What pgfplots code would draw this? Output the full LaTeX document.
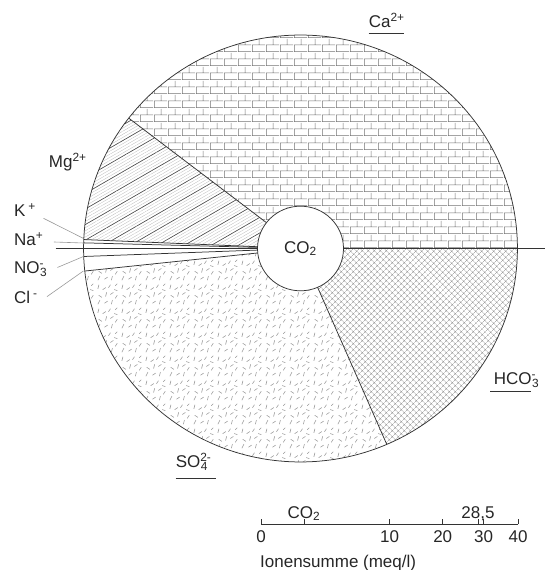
\documentclass[border=0pt]{standalone}
\usepackage{fontspec}
\setmainfont{Liberation Sans}
\usepackage{pgfplots}
\usepackage{pgfplotstable}
\pgfplotsset{compat=1.18}
\usetikzlibrary{patterns,patterns.meta}

\tikzdeclarepattern{
  name=mybricks, type=uncolored,
  bounding box={(0pt,0pt) and (14pt,14pt)},
  tile size={(14pt,14pt)},
  code={
    \draw[line width=0.55pt] (0pt,0.5pt) -- (14pt,0.5pt) (0pt,7.5pt) -- (14pt,7.5pt)
      (0.5pt,0.5pt) -- (0.5pt,7.5pt) (7.5pt,7.5pt) -- (7.5pt,14pt);
  }
}
\tikzdeclarepattern{
  name=mydashes, type=uncolored,
  bounding box={(0pt,0pt) and (24pt,24pt)},
  tile size={(24pt,24pt)},
  code={
    \draw[line width=0.6pt, line cap=round]
      (2pt,2pt)--(4pt,6pt) (9pt,3pt)--(12pt,5pt) (16pt,2pt)--(17pt,6pt)
      (20pt,8pt)--(22pt,11pt) (3pt,11pt)--(6pt,9pt) (10pt,10pt)--(11pt,14pt)
      (15pt,12pt)--(18pt,14pt) (2pt,18pt)--(3pt,22pt) (7pt,17pt)--(10pt,19pt)
      (13pt,19pt)--(15pt,22pt) (19pt,17pt)--(22pt,16pt) (20pt,21pt)--(22pt,23pt);
  }
}

% ---- data (meq/l) ----
\pgfplotstableread{
ion value
Ca 11.27
Mg 2.79
K 0.07
Na 0.12
}\cations
\pgfplotstableread{
ion value
HCO3 5.27
SO4 8.50
Cl 0.31
NO3 0.17
}\anions
\pgfplotstableread{
quantity value
total 28.5
CO2 1.12
}\scalevals

\pgfplotstablegetelem{0}{value}\of\cations\let\vCa\pgfplotsretval
\pgfplotstablegetelem{1}{value}\of\cations\let\vMg\pgfplotsretval
\pgfplotstablegetelem{2}{value}\of\cations\let\vK\pgfplotsretval
\pgfplotstablegetelem{3}{value}\of\cations\let\vNa\pgfplotsretval
\pgfplotstablegetelem{0}{value}\of\anions\let\vHC\pgfplotsretval
\pgfplotstablegetelem{1}{value}\of\anions\let\vSO\pgfplotsretval
\pgfplotstablegetelem{2}{value}\of\anions\let\vCl\pgfplotsretval
\pgfplotstablegetelem{3}{value}\of\anions\let\vNO\pgfplotsretval
\pgfplotstablegetelem{0}{value}\of\scalevals\let\vTot\pgfplotsretval
\pgfplotstablegetelem{1}{value}\of\scalevals\let\vCOz\pgfplotsretval

\pgfmathsetmacro\myKc{180/(\vCa+\vMg+\vK+\vNa)}
\pgfmathsetmacro\myKa{180/(\vHC+\vSO+\vCl+\vNO)}
\pgfmathsetmacro\aCa{\vCa*\myKc}
\pgfmathsetmacro\aMg{(\vCa+\vMg)*\myKc}
\pgfmathsetmacro\aK{(\vCa+\vMg+\vK)*\myKc}
\pgfmathsetmacro\aHC{-\vHC*\myKa}
\pgfmathsetmacro\aSO{-(\vHC+\vSO)*\myKa}
\pgfmathsetmacro\aCl{-(\vHC+\vSO+\vCl)*\myKa}
\def\scaleLen{257}
\pgfmathsetmacro\Rx{\scaleLen*sqrt(\vTot/40)}
\pgfmathsetmacro\Ry{\Rx*0.984}
\pgfmathsetmacro\rx{\scaleLen*sqrt(\vCOz/40)}
\pgfmathsetmacro\ry{\rx*0.984}
\def\cx{300.5}
\def\cy{321.5}

\newcommand\pieslice[2]{(axis cs:\cx,\cy) -- ++(#1:\Rx pt and \Ry pt) arc[start angle=#1, end angle=#2, x radius=\Rx pt, y radius=\Ry pt] -- cycle}
\newcommand\subsup[2]{\textsuperscript{\rlap{#2}}\textsubscript{#1}}

\tikzset{lab/.style={font=\fontsize{17}{20}\selectfont, inner sep=0pt, text=black!85},
  edge/.style={line width=0.75pt, draw=black!80},
  lead/.style={line width=0.6pt, draw=black!40}}

\begin{document}
\begin{tikzpicture}
\begin{axis}[at={(0pt,0pt)}, anchor=south west, x=1pt, y=1pt,
  xmin=0, xmax=547, ymin=0, ymax=570, hide axis, clip=false, enlargelimits=false]
  % fills
  \fill[pattern=mybricks, pattern color=black!55] \pieslice{0}{\aCa};
  \fill[pattern={Lines[angle=30,distance=2.7pt,line width=0.3pt]}, pattern color=black!28] \pieslice{\aCa}{\aMg};
  \fill[pattern={Lines[angle=30,distance=13.5pt,line width=0.6pt]}, pattern color=black!70] \pieslice{\aCa}{\aMg};
  \fill[pattern={Hatch[angle=45,distance=4pt,line width=0.45pt]}, pattern color=black!45] \pieslice{\aHC}{0};
  \fill[pattern=mydashes, pattern color=black!40] \pieslice{\aSO}{\aHC};
  % outline and boundaries
  \draw[edge] (axis cs:\cx,\cy) ellipse [x radius=\Rx pt, y radius=\Ry pt];
  \draw[edge] (axis cs:\cx,\cy) -- ++(\aCa:\Rx pt and \Ry pt);
  \draw[edge] (axis cs:\cx,\cy) -- ++(\aMg:\Rx pt and \Ry pt);
  \draw[edge] (axis cs:\cx,\cy) -- ++(\aK:\Rx pt and \Ry pt);
  \draw[edge] (axis cs:\cx,\cy) -- ++(\aHC:\Rx pt and \Ry pt);
  \draw[edge] (axis cs:\cx,\cy) -- ++(\aSO:\Rx pt and \Ry pt);
  \draw[edge] (axis cs:\cx,\cy) -- ++(\aCl:\Rx pt and \Ry pt);
  \draw[edge] (axis cs:55.6,\cy) -- (axis cs:545,\cy);
  % CO2 circle
  \filldraw[fill=white, edge] (axis cs:\cx,\cy) ellipse [x radius=\rx pt, y radius=\ry pt];
  \node[lab] at (axis cs:\cx,\cy) {CO\textsubscript{2}};
  % labels
  \node[lab, anchor=base west] at (axis cs:368.6,542.5) {Ca\textsuperscript{2+}};
  \draw[edge] (axis cs:368.6,536.7) -- (axis cs:403.5,536.7);
  \node[lab, anchor=base west] at (axis cs:48.7,402) {Mg\textsuperscript{2+}};
  \node[lab, anchor=base west] at (axis cs:14,353) {K\,\textsuperscript{+}};
  \node[lab, anchor=base west] at (axis cs:14,324.5) {Na\textsuperscript{+}};
  \node[lab, anchor=base west] at (axis cs:14,296) {NO\subsup{3}{-}};
  \node[lab, anchor=base west] at (axis cs:14,266) {Cl\,\textsuperscript{-}};
  \node[lab, anchor=base west] at (axis cs:493.7,185.5) {HCO\subsup{3}{-}};
  \draw[edge] (axis cs:490,178.8) -- (axis cs:531,178.8);
  \node[lab, anchor=base west] at (axis cs:175.6,102) {SO\subsup{4}{2-}};
  \draw[edge] (axis cs:175.6,91.5) -- (axis cs:216,91.5);
  % leader lines
  \draw[lead] (axis cs:43.5,351.7) -- (axis cs:83.4,331.6);
  \draw[lead] (axis cs:53.9,328) -- (axis cs:83.4,327);
  \draw[lead] (axis cs:57.4,302.5) -- (axis cs:83.4,313.5);
  \draw[lead] (axis cs:47,273.4) -- (axis cs:83.4,299);
\end{axis}
\begin{axis}[at={(261pt,46pt)}, anchor=south west, scale only axis,
  width=257pt, height=12pt, xmin=0, xmax=40, ymin=0, ymax=1,
  x coord trafo/.code={\pgfmathparse{sqrt(#1)}},
  x coord inv trafo/.code={\pgfmathparse{(#1)^2}},
  axis x line*=bottom, axis y line=none,
  x axis line style={-, line width=0.8pt, black!80},
  xtick={0,10,20,30,40}, xticklabels={0,10,20,30,40},
  extra x ticks={1.12,28.5}, extra x tick labels={{},{}},
  tick align=inside, major tick length=5pt,
  tick style={line width=0.8pt, black!80},
  xticklabel style={font=\fontsize{17}{20}\selectfont, text=black!85, yshift=-3pt},
  ytick=\empty, clip=false, enlargelimits=false]
  \node[lab, anchor=base] at (axis cs:\vCOz,0) [yshift=6pt] {CO\textsubscript{2}};
  \node[lab, anchor=base] at (axis cs:\vTot,0) [yshift=6pt] {28,5};
  \node[lab, anchor=base west] at (axis cs:0,0) [yshift=-43pt, xshift=-1pt] {Ionensumme (meq/l)};
\end{axis}
\pgfresetboundingbox
\path[use as bounding box] (0pt,0pt) rectangle (547pt,570pt);
\end{tikzpicture}
\end{document}
